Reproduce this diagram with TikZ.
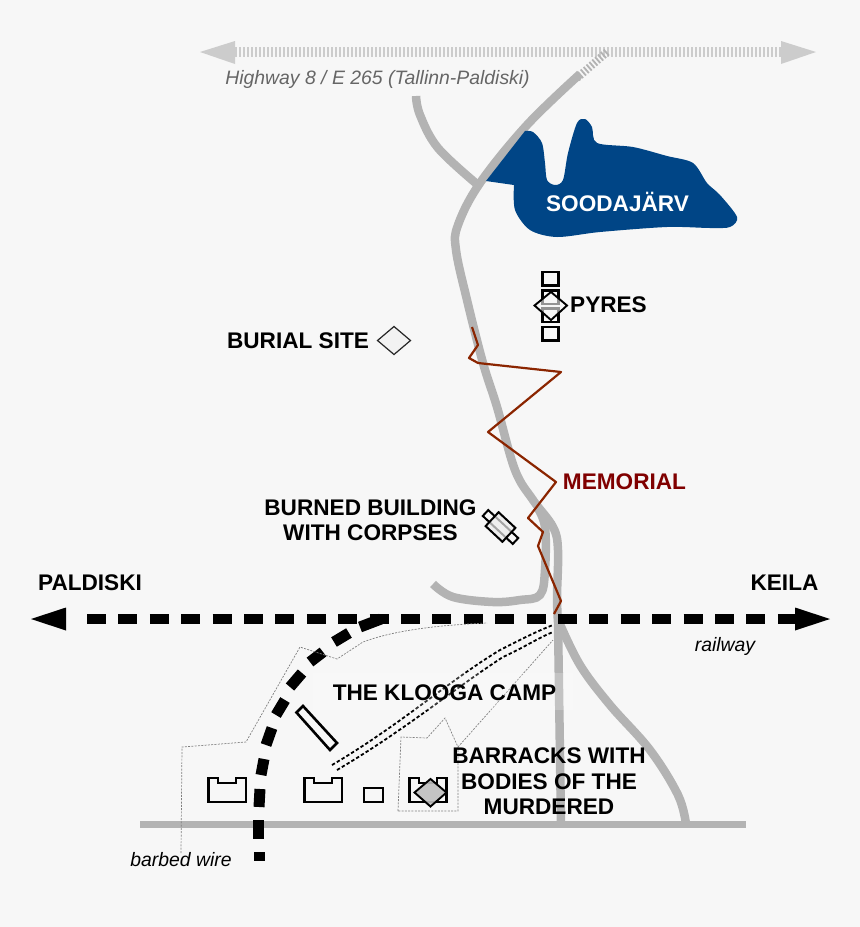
\documentclass[tikz,border=0pt]{standalone}
\usepackage{fontspec}
\setmainfont{Liberation Sans}
\usetikzlibrary{calc}
\definecolor{bg}{HTML}{F7F7F7}
\definecolor{roadc}{HTML}{B3B3B3}
\definecolor{hwy}{HTML}{CCCCCC}
\definecolor{lakec}{HTML}{004586}
\definecolor{memc}{HTML}{800000}
\definecolor{memline}{HTML}{8B2500}
\tikzset{
  x=1pt,y=-1pt,
  road/.style={draw=roadc,line width=8.5pt,line join=round},
  lbl/.style={font=\fontsize{22.6}{25.5}\selectfont\bfseries,text=black,inner sep=0pt,align=center},
  note/.style={font=\fontsize{19.4}{22}\selectfont\itshape,inner sep=0pt},
  bld/.style={draw=black,line width=2.6pt,line join=miter},
  wire/.style={draw=black!50,line width=.7pt,dash pattern=on 2pt off 1.3pt},
  rail/.style={draw=black,line width=1.8pt,dash pattern=on 3.4pt off 2.2pt},
  dia/.style={draw=black,line width=1.9pt},
  spurdash/.style={draw=black,line width=11pt},
}
\begin{document}
\begin{tikzpicture}
\fill[bg] (0,0) rectangle (860,927);
\useasboundingbox (0,0) rectangle (860,927);
% highway
\draw[draw=hwy,line width=10pt,dash pattern=on 2.2pt off 1.8pt] (235,52) -- (781,52);
\fill[hwy] (200,52) -- (235,41) -- (235,64) -- cycle;
\fill[hwy] (816,52) -- (781,41) -- (781,64) -- cycle;
% roads
\draw[draw=roadc,line width=8pt,dash pattern=on 1.8pt off 2pt] (607,52) -- (577,78);
\draw[road] plot[smooth,tension=.6] coordinates {(416,96) (420,115) (438,148) (478,185)};
\draw[road] plot[smooth,tension=.6] coordinates {(580,74) (527,125) (480,183) (458,225) (456,250) (467,300) (483,363) (497,407) (515,470) (533,500) (553,527) (558,550) (557,597) (558,622)};
\draw[road] (558,622) -- (561,824);
\draw[road] plot[smooth,tension=.6] coordinates {(537,507) (545,527) (545,570) (540,595) (520,600) (493,602) (453,597) (433,584)};
\draw[road] plot[smooth,tension=.6] coordinates {(559,622) (580,665) (610,705) (650,750) (678,795) (686,824)};
\draw[road,line width=7.5pt] (140,824.5) -- (746,824.5);
% lake
\fill[lakec] (486,181) -- (525,131) -- plot[smooth,tension=.5] coordinates {(525,131) (533,132) (542,143) (545,163) (547,180) (555,185) (563,180) (568,153) (577,123) (585,119) (592,127) (597,143) (633,147) (667,156) (693,163) (707,183) (720,195) (737,217) (730,227) (710,228) (667,227) (600,232) (557,237) (530,230) (515,210) (514,185)} -- (500,183) -- cycle;
% railway
\draw[draw=black,line width=10pt,dash pattern=on 19pt off 12.4pt] (87,619) -- (795,619);
\fill[black] (31,619) -- (66,607.5) -- (66,630.5) -- cycle;
\fill[black] (830,619) -- (795,607.5) -- (795,630.5) -- cycle;
% spur
\draw[spurdash] (381,619) -- (360,627);
\draw[spurdash] (349,633) -- (334,642);
\draw[spurdash] (323,652) -- (310,662);
\draw[spurdash] (302,673) -- (290,687);
\draw[spurdash] (285,700) -- (276,715);
\draw[spurdash] (272,728) -- (266,745);
\draw[spurdash] (264,759) -- (261,775);
\draw[spurdash] (260,789) -- (259,807);
\draw[spurdash] (258.5,820) -- (258.5,839);
\draw[spurdash] (259,852) -- (259,861);
% barbed wire
\draw[wire] (181,853) -- (182,747) -- (246,742) -- (300,647) -- (337,659) -- (363,642) .. controls (395,630) and (440,625) .. (487,623);
\draw[wire] (398,811) -- (401,737) -- (427,738) -- (445,718) -- (458,747) -- (458,811) -- cycle;
\draw[wire] (458,747) -- (553,640);
% double track
\draw[rail] (332,765) .. controls (400,725) and (450,680) .. (500,650) .. controls (520,640) and (535,632) .. (553,625);
\draw[rail] (337,770) .. controls (405,730) and (455,688) .. (503,657) .. controls (523,648) and (538,638) .. (553,632);
% label plate
\fill[white,opacity=.22] (313,673) rectangle (573,710);
% memorial line
\coordinate (m1) at (472,327);
\draw[draw=memline,line width=2.2pt,line join=round] (m1) -- (478,345) -- (469,358) -- (478,363) -- (561,372) -- (488,432) -- (556,482) -- (528,518) -- (543,532) -- (538,546) -- (561,601) -- (554,614);
% pyres
\foreach \t in {272,290.5,308.5,327} \draw[bld] (542.5,\t) rectangle (558.5,\t+13.5);
\draw[dia,fill=black!3,fill opacity=.6] (534.5,305.5) -- (551,292) -- (567,305.5) -- (551,320) -- cycle;
% burial
\draw[draw=black!85,line width=1.2pt,fill=black!5] (377.5,340.5) -- (394,326.5) -- (410.5,340.5) -- (394,354.5) -- cycle;
% burned building
\begin{scope}[shift={(500.5,527)},rotate=-43]
\draw[bld,line width=2pt] (-20.5,-4) rectangle (20.5,4);
\draw[bld,line width=2pt,fill=black!8,fill opacity=.7] (-11.5,-9.5) rectangle (11.5,9.5);
\end{scope}
% camp buildings
\draw[bld] (208.5,778) -- (218,778) -- (218,783) -- (236,783) -- (236,778) -- (246,778) -- (246,802) -- (208.5,802) -- cycle;
\draw[bld] (304.5,778) -- (314,778) -- (314,783) -- (332,783) -- (332,778) -- (342,778) -- (342,802) -- (304.5,802) -- cycle;
\draw[bld] (364,788) rectangle (383,802);
\draw[bld] (409.5,778) -- (419,778) -- (419,783) -- (437,783) -- (437,778) -- (446.5,778) -- (446.5,802) -- (409.5,802) -- cycle;
\draw[dia,fill=black!25,fill opacity=.9] (414.5,792.5) -- (430.5,779) -- (446.5,792.5) -- (430.5,806.5) -- cycle;
\draw[bld] (296.5,712.5) -- (303,706) -- (337,743) -- (330,750) -- cycle;
% labels
\node[note,text=black!60] (hwlabel) at (377.5,79) {Highway 8 / E 265 (Tallinn-Paldiski)};
\node[lbl,text=white] (lake) at (617.5,202) {SOODAJÄRV};
\node[lbl] (pyres) at (608.5,304.5) {PYRES};
\node[lbl] (burial) at (298,340.5) {BURIAL SITE};
\node[lbl,text=memc] (memorial) at (624.5,482) {MEMORIAL};
\node[lbl] (burned) at (370.5,520) {BURNED BUILDING\\WITH CORPSES};
\node[lbl] (paldiski) at (90,582.5) {PALDISKI};
\node[lbl] (keila) at (784.5,582.5) {KEILA};
\node[note] (railway) at (725,646) {railway};
\node[lbl] (camp) at (444.5,692.5) {THE KLOOGA CAMP};
\node[lbl] (barracks) at (549,781.5) {BARRACKS WITH\\BODIES OF THE\\MURDERED};
\node[note] (barbed) at (181,860) {barbed wire};
\end{tikzpicture}
\end{document}
